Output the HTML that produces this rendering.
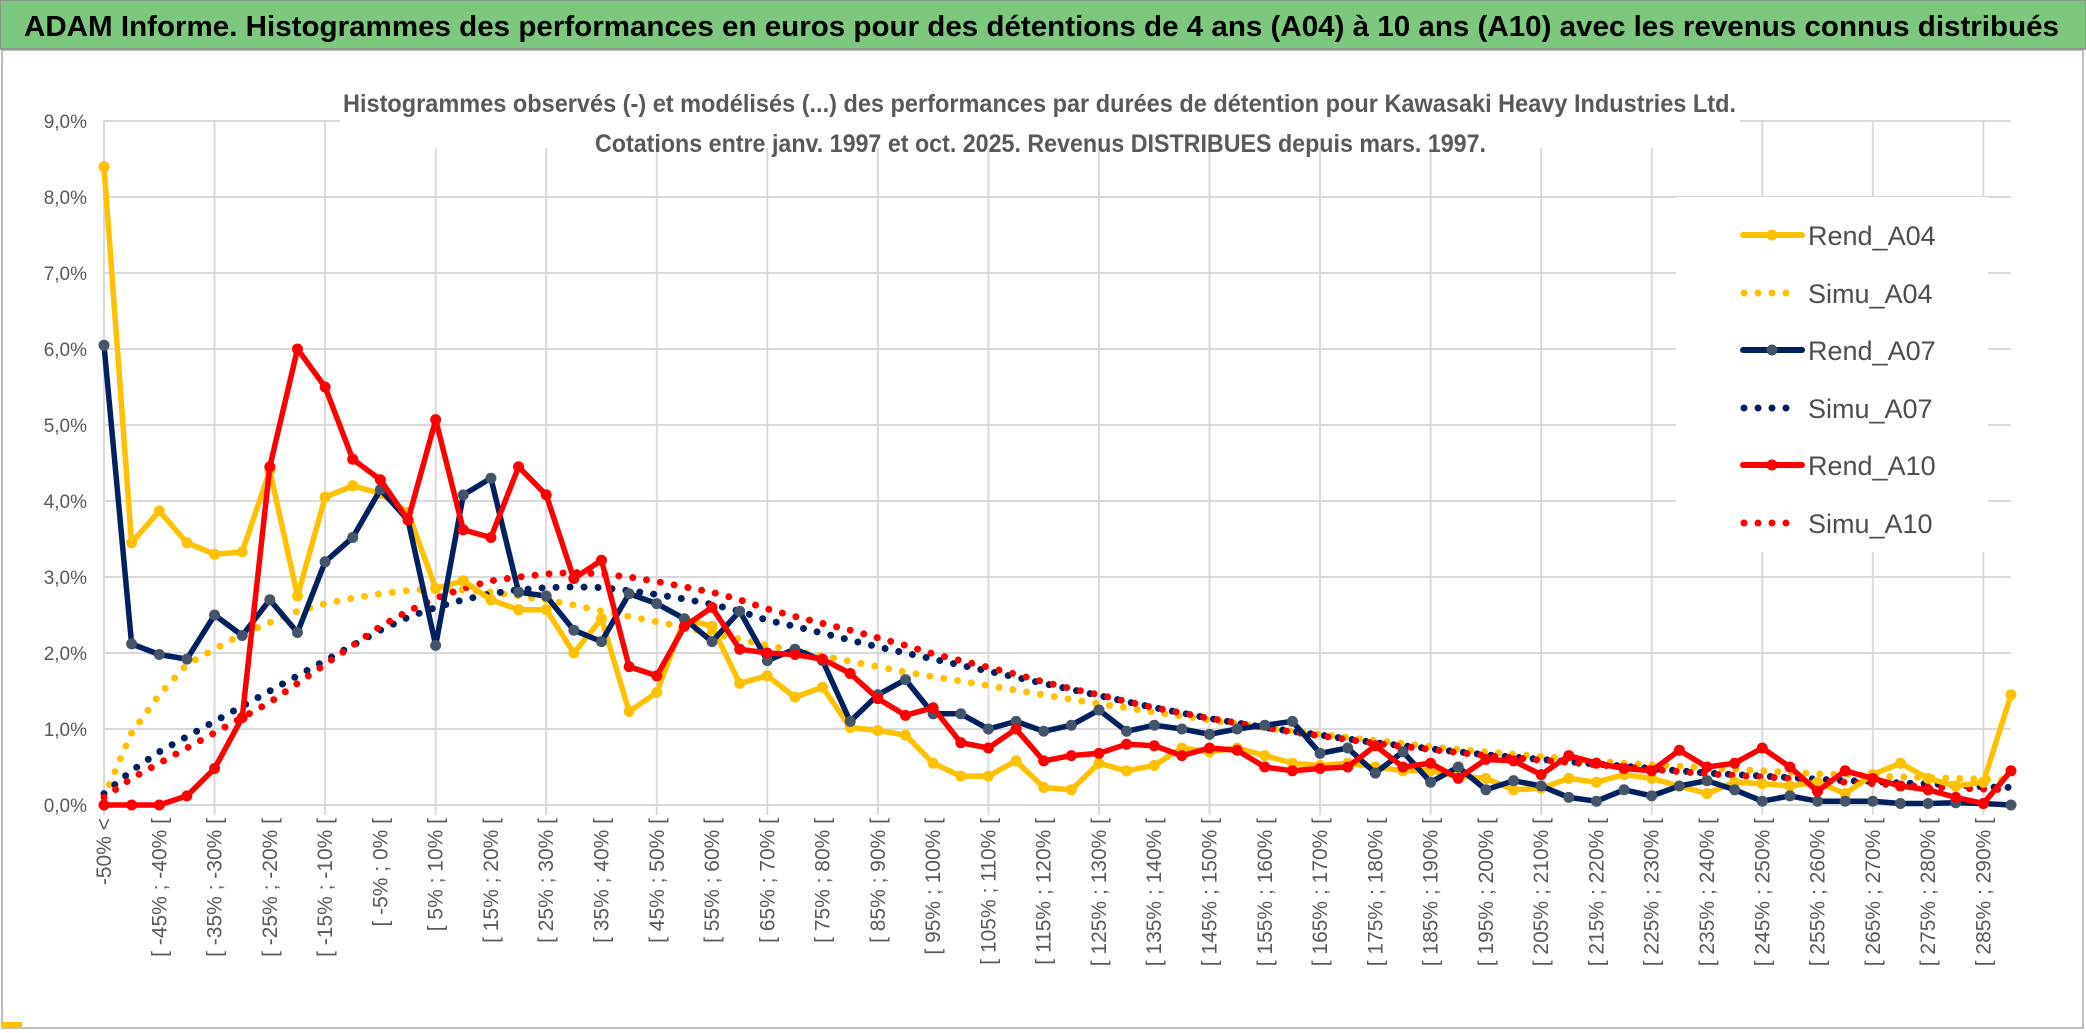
<!DOCTYPE html>
<html><head><meta charset="utf-8"><style>
html,body{margin:0;padding:0;background:#fff;}
svg{display:block;font-family:"Liberation Sans",sans-serif;}
</style></head><body>
<svg id="chart" width="2086" height="1033" viewBox="0 0 2086 1033">
  <rect x="0" y="0" width="2086" height="1033" fill="#fff"/>
  <rect x="2" y="50" width="2081" height="978" fill="#fff" stroke="#bfbfbf" stroke-width="2"/>
  <rect x="0" y="0" width="2086" height="49" fill="#7cc97e" stroke="#8a8a8a" stroke-width="1.5"/>
  <rect x="2" y="1022" width="20" height="5" fill="#ffc000"/>
  <text x="24" y="36" font-size="29" font-weight="bold" fill="#000" textLength="2035" lengthAdjust="spacingAndGlyphs">ADAM Informe. Histogrammes des performances en euros pour des détentions de 4 ans (A04) à 10 ans (A10) avec les revenus connus distribués</text>
  <g id="grid"></g>
  <g id="yaxis"></g>
  <g id="xaxis"></g>
  <rect x="340" y="60" width="1400" height="88" fill="#fff"/>
  <text x="343" y="112" font-size="25" font-weight="bold" fill="#595959" textLength="1393" lengthAdjust="spacingAndGlyphs">Histogrammes observés (-) et modélisés (...) des performances par durées de détention pour Kawasaki Heavy Industries Ltd.</text>
  <text x="595" y="152" font-size="25" font-weight="bold" fill="#595959" textLength="891" lengthAdjust="spacingAndGlyphs">Cotations entre janv. 1997 et oct. 2025. Revenus DISTRIBUES depuis mars. 1997.</text>
  <g id="series"></g>
  <g id="legend"></g>
</svg>
<script>
const rendA04 = [8.4,3.45,3.87,3.45,3.3,3.33,4.4,2.75,4.05,4.2,4.1,3.85,2.85,2.95,2.7,2.57,2.57,2.0,2.45,1.23,1.48,2.45,2.35,1.6,1.7,1.42,1.55,1.02,0.98,0.92,0.55,0.38,0.38,0.58,0.23,0.2,0.55,0.45,0.52,0.75,0.7,0.75,0.65,0.55,0.52,0.55,0.5,0.45,0.45,0.38,0.35,0.2,0.22,0.35,0.3,0.4,0.35,0.25,0.15,0.3,0.28,0.25,0.3,0.15,0.4,0.55,0.35,0.25,0.3,1.45];
const simuA04 = [0.1,0.95,1.45,1.85,2.05,2.25,2.4,2.55,2.65,2.72,2.78,2.82,2.85,2.83,2.8,2.75,2.7,2.63,2.55,2.48,2.41,2.34,2.26,2.18,2.1,2.03,1.96,1.89,1.82,1.75,1.69,1.63,1.57,1.51,1.45,1.39,1.33,1.28,1.22,1.17,1.12,1.07,1.02,0.97,0.93,0.89,0.85,0.81,0.77,0.73,0.7,0.67,0.64,0.61,0.58,0.55,0.53,0.51,0.49,0.47,0.45,0.43,0.41,0.4,0.38,0.37,0.36,0.35,0.34,0.33];
const rendA07 = [6.05,2.12,1.98,1.92,2.5,2.23,2.7,2.27,3.2,3.52,4.15,3.75,2.1,4.08,4.3,2.8,2.75,2.3,2.15,2.78,2.65,2.45,2.15,2.55,1.9,2.05,1.9,1.1,1.45,1.65,1.2,1.2,1.0,1.1,0.97,1.05,1.25,0.97,1.05,1.0,0.93,1.0,1.05,1.1,0.68,0.75,0.42,0.7,0.3,0.5,0.2,0.32,0.25,0.1,0.05,0.2,0.12,0.25,0.32,0.2,0.05,0.12,0.05,0.05,0.05,0.02,0.02,0.03,0.02,0.0];
const simuA07 = [0.15,0.45,0.7,0.9,1.1,1.3,1.5,1.7,1.9,2.1,2.3,2.47,2.6,2.7,2.78,2.83,2.86,2.87,2.86,2.82,2.77,2.71,2.64,2.55,2.43,2.35,2.26,2.17,2.08,2.0,1.92,1.84,1.76,1.68,1.6,1.52,1.44,1.36,1.28,1.21,1.14,1.08,1.02,0.97,0.92,0.87,0.82,0.78,0.74,0.7,0.66,0.63,0.6,0.57,0.54,0.51,0.48,0.45,0.42,0.4,0.38,0.36,0.34,0.32,0.31,0.29,0.28,0.26,0.24,0.23];
const rendA10 = [0,0,0,0.12,0.48,1.15,4.45,6.0,5.5,4.55,4.28,3.75,5.07,3.62,3.52,4.45,4.08,2.98,3.22,1.82,1.7,2.35,2.6,2.05,2.0,1.98,1.92,1.73,1.4,1.18,1.28,0.82,0.75,1.0,0.58,0.65,0.68,0.8,0.78,0.65,0.75,0.72,0.5,0.45,0.48,0.5,0.78,0.5,0.55,0.35,0.6,0.58,0.4,0.65,0.55,0.48,0.45,0.72,0.5,0.55,0.75,0.5,0.18,0.45,0.35,0.25,0.2,0.1,0.02,0.45];
const simuA10 = [0.1,0.35,0.55,0.75,0.95,1.15,1.35,1.6,1.85,2.1,2.35,2.55,2.72,2.85,2.95,3.0,3.04,3.06,3.04,3.0,2.94,2.87,2.8,2.7,2.58,2.48,2.39,2.3,2.2,2.1,1.99,1.9,1.81,1.72,1.62,1.53,1.45,1.36,1.28,1.21,1.14,1.08,1.02,0.96,0.91,0.86,0.81,0.77,0.73,0.69,0.65,0.62,0.59,0.56,0.53,0.5,0.47,0.44,0.41,0.39,0.37,0.35,0.32,0.3,0.28,0.26,0.24,0.22,0.21,0.2];
const yTicks = [0,1,2,3,4,5,6,7,8,9];
const yTickLabels = ["0,0%","1,0%","2,0%","3,0%","4,0%","5,0%","6,0%","7,0%","8,0%","9,0%"];
const categories = ["-50% <"];
for (let k = 1; k < 70; k++) { const lo = -50 + 5 * (k - 1); categories.push("[ " + lo + "% ; " + (lo + 5) + "% ["); }

const NS = "http://www.w3.org/2000/svg";
const X0 = 104, X1 = 2011, Y0 = 805, Y9 = 121, YMAX = 9;
function xPos(i) { return X0 + (X1 - X0) * i / (categories.length - 1); }
function yPos(v) { return Y0 - (Y0 - Y9) * v / YMAX; }
function mk(tag, attrs, parent) { const e = document.createElementNS(NS, tag); for (const k in attrs) e.setAttribute(k, attrs[k]); parent.appendChild(e); return e; }

const grid = document.getElementById("grid");
yTicks.forEach(function (t) {
  const l = mk("line", {x1: X0, x2: X1, y1: yPos(t), y2: yPos(t), stroke: "#d9d9d9", "stroke-width": 2}, grid);
  
  
});
for (let i = 0; i < categories.length; i += 4) {
  const l = mk("line", {x1: xPos(i), x2: xPos(i), y1: Y9, y2: Y0 + 10, stroke: "#d9d9d9", "stroke-width": 2}, grid);
  
  
}
const yax = document.getElementById("yaxis");
yTicks.forEach(function (t, k) {
  const tx = mk("text", {x: 87, y: yPos(t) + 7, "text-anchor": "end", "font-size": 19, fill: "#595959"}, yax);
  tx.textContent = yTickLabels[k];
  
  
});
const xax = document.getElementById("xaxis");
for (let i = 0; i < categories.length; i += 2) {
  const x = xPos(i) + 7, y = 818;
  const tx = mk("text", {x: x, y: y, transform: "rotate(-90 " + x + " " + y + ")", "text-anchor": "end", "font-size": 21, fill: "#595959"}, xax);
  tx.textContent = categories[i];
  
  
}

const seriesG = document.getElementById("series");
function pts(arr) { return arr.map(function (v, i) { return xPos(i).toFixed(1) + "," + yPos(v).toFixed(1); }).join(" "); }
function dotted(arr, color, name) {
  const p = mk("polyline", {points: pts(arr), fill: "none", stroke: color, "stroke-width": 7, "stroke-linecap": "round", "stroke-dasharray": "0 14"}, seriesG);
  
  
}
function solid(arr, color, mcolor, name) {
  const g = mk("g", {}, seriesG);
  
  
  const p = mk("polyline", {points: pts(arr), fill: "none", stroke: color, "stroke-width": 5.5, "stroke-linejoin": "round"}, g);
  
  
  arr.forEach(function (v, i) {
    const c = mk("circle", {cx: xPos(i), cy: yPos(v), r: 5.5, fill: mcolor}, g);
    
    
  });
}
dotted(simuA04, "#ffc000", "simu-a04-series");
dotted(simuA07, "#002060", "simu-a07-series");
dotted(simuA10, "#ff0000", "simu-a10-series");
solid(rendA04, "#ffc000", "#ffc000", "rend-a04-series");
solid(rendA07, "#002060", "#44546a", "rend-a07-series");
solid(rendA10, "#ff0000", "#ff0000", "rend-a10-series");

const leg = document.getElementById("legend");
const bg = mk("rect", {x: 1676, y: 197, width: 312, height: 355, fill: "#fff"}, leg);


const legendItems = [
  ["Rend_A04", "#ffc000", "#ffc000", false],
  ["Simu_A04", "#ffc000", null, true],
  ["Rend_A07", "#002060", "#44546a", false],
  ["Simu_A07", "#002060", null, true],
  ["Rend_A10", "#ff0000", "#ff0000", false],
  ["Simu_A10", "#ff0000", null, true]
];
const legendY = [235, 293, 350, 408, 465, 523];
legendItems.forEach(function (it, k) {
  const g = mk("g", {}, leg);
  
  
  const y = legendY[k];
  if (it[3]) {
    mk("line", {x1: 1744, x2: 1800, y1: y, y2: y, stroke: it[1], "stroke-width": 7, "stroke-linecap": "round", "stroke-dasharray": "0 14"}, g);
  } else {
    mk("line", {x1: 1743, x2: 1802, y1: y, y2: y, stroke: it[1], "stroke-width": 6, "stroke-linecap": "round"}, g);
    mk("circle", {cx: 1772, cy: y, r: 5.5, fill: it[2]}, g);
  }
  const t = mk("text", {x: 1808, y: y + 10, "font-size": 27, fill: "#4d4d4d"}, g);
  t.textContent = it[0];
  
  
});
</script>
</body></html>
